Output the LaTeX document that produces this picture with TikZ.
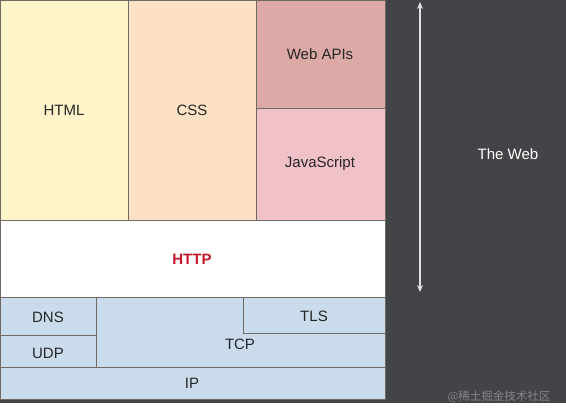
\documentclass[tikz,border=0pt]{standalone}
\usepackage{fontspec}
\usetikzlibrary{arrows.meta}
\setmainfont{Liberation Sans}
\newfontfamily\cjk{Noto Sans CJK SC}
\definecolor{bgdark}{HTML}{434447}
\definecolor{htmlfill}{HTML}{FFF3C9}
\definecolor{cssfill}{HTML}{FCE1C6}
\definecolor{apifill}{HTML}{DDA9A6}
\definecolor{jsfill}{HTML}{F1C1C9}
\definecolor{netfill}{HTML}{CADBEB}
\definecolor{edge}{HTML}{6F6A63}
\definecolor{httpred}{HTML}{C4172E}
\tikzset{
  layer/.style={draw=edge, line width=0.9pt},
  lbl/.style={font=\fontsize{15}{18}\selectfont, text=black!85},
}

\begin{document}
\begin{tikzpicture}[x=1pt, y=-1pt]
  \useasboundingbox (0,0) rectangle (566,417);
  \fill[white] (0,0) rectangle (566,417);
  \fill[bgdark] (0,0) rectangle (566,403);
  % browser layers
  \filldraw[layer, fill=htmlfill] (0,0) rectangle (128,220);
  \filldraw[layer, fill=cssfill] (128,0) rectangle (256,220);
  \filldraw[layer, fill=apifill] (256,0) rectangle (385,108);
  \filldraw[layer, fill=jsfill] (256,108) rectangle (385,220);
  \filldraw[layer, fill=white] (0,220) rectangle (385,297);
  % network layers
  \filldraw[layer, fill=netfill] (96,297) rectangle (385,367);
  \filldraw[layer, fill=netfill] (243,297) rectangle (385,333);
  \filldraw[layer, fill=netfill] (0,297) rectangle (96,335);
  \filldraw[layer, fill=netfill] (0,335) rectangle (96,367);
  \filldraw[layer, fill=netfill] (0,367) rectangle (385,399);
  \node[lbl] (html) at (64,110) {HTML};
  \node[lbl] (css) at (192,110) {CSS};
  \node[lbl] (api) at (320,54) {Web APIs};
  \node[lbl] (js) at (320,164) {JavaScript};
  \node[lbl, font=\bfseries\fontsize{15}{18}\selectfont, text=httpred] (http) at (192,259) {HTTP};
  \node[lbl] (dns) at (48,317) {DNS};
  \node[lbl] (udp) at (48,353) {UDP};
  \node[lbl] (tls) at (314,316) {TLS};
  \node[lbl] (tcp) at (240,344) {TCP};
  \node[lbl] (ip) at (192,383) {IP};
  % the web span
  \coordinate (webtop) at (420,2);
  \coordinate (webbot) at (420,292);
  \draw[{Stealth[length=7pt,width=6pt]}-{Stealth[length=7pt,width=6pt]}, draw=white!88!black, line width=1.4pt] (webtop) -- (webbot);
  \node[lbl, text=white] (web) at (508,154) {The Web};
  \node[text=white, opacity=0.35, font=\cjk\fontsize{11.5}{13}\selectfont] (mark) at (499,397) {@稀土掘金技术社区};
\end{tikzpicture}
\end{document}
